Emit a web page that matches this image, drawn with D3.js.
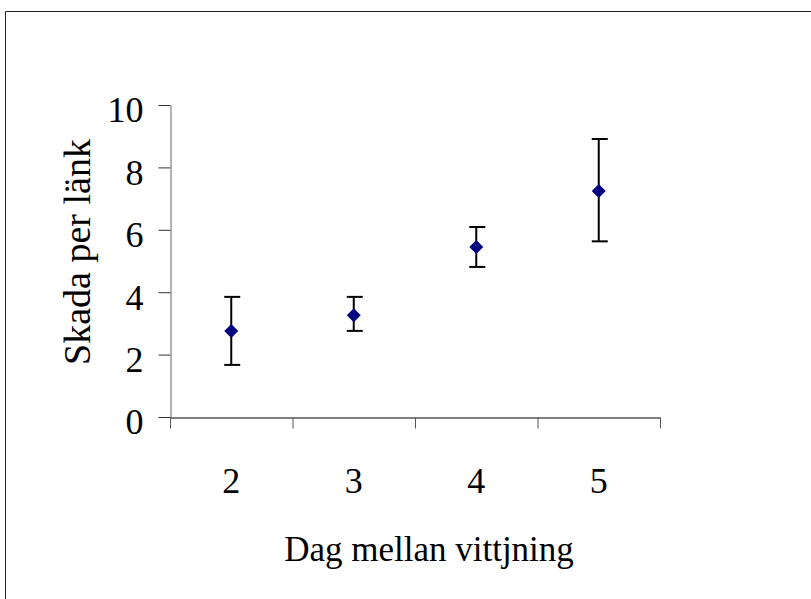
<!DOCTYPE html>
<html>
<head>
<meta charset="utf-8">
<script src="https://cdn.jsdelivr.net/npm/d3@7"></script>
<style>
  body { margin: 0; background: #fff; }
  svg { display: block; }
</style>
</head>
<body>
<div id="chart"></div>
<script>
// data
const days = ["2", "3", "4", "5"];
const damage = [2.76, 3.26, 5.45, 7.24];
const errHigh = [3.85, 3.85, 6.09, 8.91];
const errLow = [1.67, 2.76, 4.81, 5.63];
const yTicks = [0, 2, 4, 6, 8, 10];

const width = 811, height = 599;
const plotLeft = 170, plotRight = 660, plotTop = 105, plotBottom = 417;
const serif = "'Liberation Serif', 'Times New Roman', Times, serif";

const svg = d3.select('#chart').append('svg')
    .attr('width', width)
    .attr('height', height)
    .style('font-family', serif);

// outer frame (runs off to the right and bottom)
svg.append('path')
    .attr('d', `M5.5,${height} V11.5 H${width}`)
    .attr('fill', 'none')
    .attr('stroke', '#222')
    .attr('stroke-width', 1);

const x = d3.scaleBand().domain(days).range([plotLeft, plotRight]).padding(0);
const y = d3.scaleLinear().domain([0, 10]).range([plotBottom, plotTop]);

// y axis
const yAxis = svg.append('g')
    .attr('transform', `translate(${plotLeft + 0.5},0)`)
    .call(d3.axisLeft(y).tickValues(yTicks).tickSize(12).tickSizeOuter(0).tickPadding(15))
    .attr('font-family', null)
    .attr('font-size', null);
yAxis.select('.domain').attr('stroke', '#666');
yAxis.selectAll('.tick line').attr('stroke', '#333');
yAxis.selectAll('.tick text')
    .attr('dy', '0.47em')
    .style('font-family', serif)
    .style('font-size', '36px');

// x axis: ticks on the category boundaries, labels in the middle
const xEdges = d3.scaleLinear().domain([0, days.length]).range([plotLeft, plotRight]);
const xAxis = svg.append('g')
    .attr('transform', `translate(0,${plotBottom + 0.5})`)
    .call(d3.axisBottom(xEdges).ticks(days.length).tickSize(11).tickSizeOuter(0).tickFormat(''));
xAxis.select('.domain').attr('stroke', '#000');
xAxis.selectAll('.tick line').attr('stroke', '#555');

const xLabels = svg.append('g')
    .attr('transform', `translate(0,${plotBottom})`)
    .call(d3.axisBottom(x).tickSize(0).tickPadding(50))
    .attr('font-family', null)
    .attr('font-size', null);
xLabels.select('.domain').remove();
xLabels.selectAll('.tick text')
    .style('font-family', serif)
    .style('font-size', '36px');

// axis titles
svg.append('text')
    .attr('x', 429)
    .attr('y', 561)
    .attr('text-anchor', 'middle')
    .style('font-family', serif)
    .style('font-size', '35px')
    .text('Dag mellan vittjning');

svg.append('text')
    .attr('transform', 'translate(90,252) rotate(-90)')
    .attr('text-anchor', 'middle')
    .style('font-family', serif)
    .style('font-size', '38px')
    .text('Skada per länk');

// error bars
const cx = d => x(d) + x.bandwidth() / 2;
const bars = svg.append('g')
    .attr('stroke', '#000')
    .attr('stroke-width', 2)
    .selectAll('g')
    .data(days)
    .join('g');
bars.append('line')
    .attr('x1', cx).attr('x2', cx)
    .attr('y1', (d, i) => y(errHigh[i]))
    .attr('y2', (d, i) => y(errLow[i]));
bars.append('line')
    .attr('x1', d => cx(d) - 7).attr('x2', d => cx(d) + 9)
    .attr('y1', (d, i) => y(errHigh[i]))
    .attr('y2', (d, i) => y(errHigh[i]));
bars.append('line')
    .attr('x1', d => cx(d) - 7).attr('x2', d => cx(d) + 9)
    .attr('y1', (d, i) => y(errLow[i]))
    .attr('y2', (d, i) => y(errLow[i]));

// diamond markers
svg.append('g')
    .selectAll('path')
    .data(days)
    .join('path')
    .attr('d', d3.symbol(d3.symbolSquare, 98))
    .attr('transform', (d, i) => `translate(${cx(d)},${y(damage[i])}) rotate(45)`)
    .attr('fill', '#000080');
</script>
</body>
</html>
